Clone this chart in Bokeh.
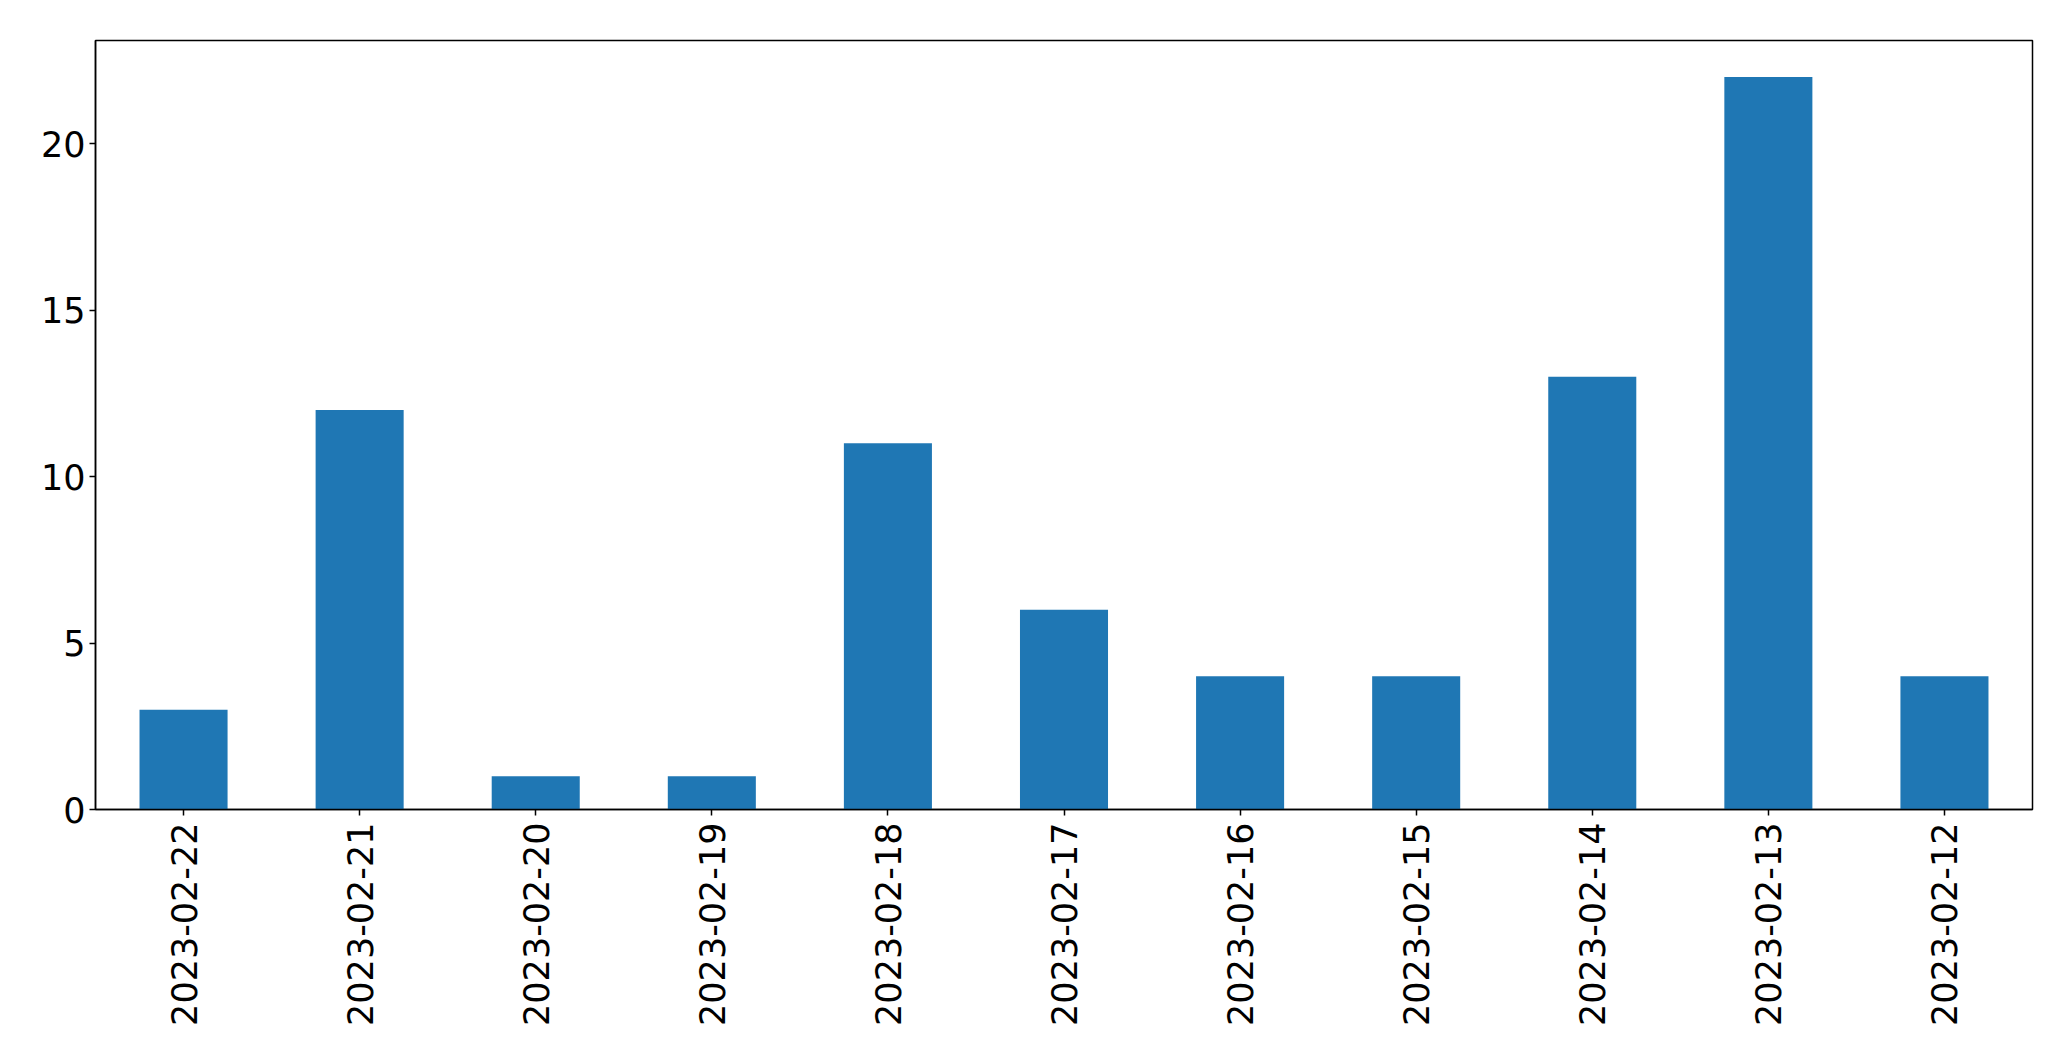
import math
from bokeh.plotting import figure
from bokeh.models import FactorRange, Range1d, FixedTicker, ColumnDataSource
from bokeh.embed import file_html
from bokeh.resources import INLINE

dates = ["2023-02-22", "2023-02-21", "2023-02-20", "2023-02-19", "2023-02-18",
         "2023-02-17", "2023-02-16", "2023-02-15", "2023-02-14", "2023-02-13", "2023-02-12"]
counts = [3, 12, 1, 1, 11, 6, 4, 4, 13, 22, 4]
y_ticks = [0, 5, 10, 15, 20]

source = ColumnDataSource(data=dict(dates=dates, counts=counts))

p = figure(x_range=FactorRange(factors=dates, range_padding=0),
           y_range=Range1d(0, max(counts) * 1.05),
           width=2055, height=1045, output_backend="svg", toolbar_location=None,
           min_border_left=95, min_border_top=40, min_border_right=23, min_border_bottom=236)

p.vbar(x="dates", top="counts", width=0.5, source=source, color="#1f77b4", line_color=None)

p.xgrid.visible = False
p.ygrid.visible = False
p.outline_line_color = "black"
p.outline_line_width = 1.5
p.outline_line_alpha = 1.0
p.background_fill_color = "white"
p.border_fill_color = "white"

p.yaxis.ticker = FixedTicker(ticks=y_ticks)
for ax in (p.xaxis[0], p.yaxis[0]):
    ax.axis_line_color = "black"
    ax.axis_line_width = 1.5
    ax.major_tick_line_color = "black"
    ax.major_tick_line_width = 1.5
    ax.major_tick_in = 0
    ax.major_tick_out = 6
    ax.minor_tick_line_color = None
    ax.major_label_text_font = "DejaVu Sans"
    ax.major_label_text_font_size = "35px"
    ax.major_label_text_color = "black"
    ax.major_label_standoff = 4

p.xaxis.major_label_orientation = math.pi / 2
p.xaxis.major_label_standoff = 7

open("out.html", "w").write(file_html(p, INLINE))
